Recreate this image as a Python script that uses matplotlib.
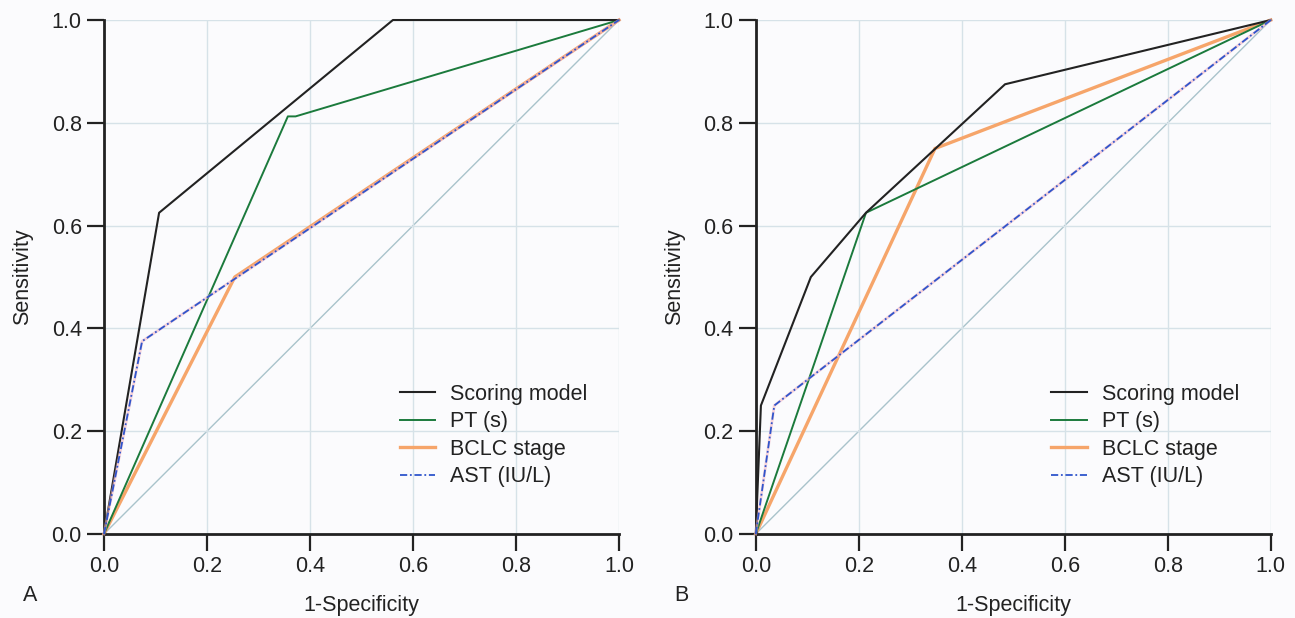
import matplotlib
matplotlib.use("Agg")
from matplotlib import pyplot as plt

plt.rcParams['font.family'] = ['Liberation Sans', 'DejaVu Sans']
plt.rcParams['text.color'] = '#222222'
plt.rcParams['axes.labelcolor'] = '#222222'
plt.rcParams['xtick.color'] = '#222222'
plt.rcParams['ytick.color'] = '#222222'

labels = ["Scoring model", "PT (s)", "BCLC stage", "AST (IU/L)"]
ticks = [0.0, 0.2, 0.4, 0.6, 0.8, 1.0]

# Panel A: (1-specificity, sensitivity) vertices of each ROC curve
a_score_fpr = [0.0, 0.107, 0.561, 1.0]
a_score_tpr = [0.0, 0.625, 1.0, 1.0]
a_pt_fpr = [0.0, 0.357, 0.372, 1.0]
a_pt_tpr = [0.0, 0.8125, 0.8125, 1.0]
a_bclc_fpr = [0.0, 0.254, 1.0]
a_bclc_tpr = [0.0, 0.5, 1.0]
a_ast_fpr = [0.0, 0.074, 1.0]
a_ast_tpr = [0.0, 0.375, 1.0]

# Panel B
b_score_fpr = [0.0, 0.01, 0.107, 0.214, 0.484, 1.0]
b_score_tpr = [0.0, 0.25, 0.5, 0.625, 0.875, 1.0]
b_pt_fpr = [0.0, 0.214, 1.0]
b_pt_tpr = [0.0, 0.625, 1.0]
b_bclc_fpr = [0.0, 0.348, 1.0]
b_bclc_tpr = [0.0, 0.75, 1.0]
b_ast_fpr = [0.0, 0.036, 1.0]
b_ast_tpr = [0.0, 0.25, 1.0]

bg = '#fbfbfd'
fs = 15.5
fig = plt.figure(figsize=(12.95, 6.18), dpi=100, facecolor=bg)


def draw_panel(ax, curves, letter):
    ax.set_facecolor(bg)
    ax.grid(True, color='#d6e2e8', lw=1.0, zorder=0)
    ax.plot([0, 1], [0, 1], color='#a9c3cb', lw=1.0, zorder=1, clip_on=False)

    (sx, sy), (px, py), (bx, by), (tx, ty) = curves
    ax.plot(bx, by, color='#f6a56a', lw=2.4, zorder=2, clip_on=False, label=labels[2])
    ax.plot(px, py, color='#1b7a3c', lw=1.4, zorder=3, clip_on=False, label=labels[1])
    ax.plot(sx, sy, color='#222222', lw=1.5, zorder=4, clip_on=False, label=labels[0])
    ax.plot(tx, ty, color='#f2b6c4', lw=2.0, alpha=0.6, zorder=4, clip_on=False)
    ax.plot(tx, ty, color='#2f55cc', lw=1.3, zorder=5, clip_on=False,
            dashes=(4, 1.5, 1, 1.5), label=labels[3])

    ax.set_xlim(0, 1)
    ax.set_ylim(0, 1)
    ax.set_xticks(ticks)
    ax.set_yticks(ticks)
    ax.set_xticklabels(["%.1f" % t for t in ticks])
    ax.set_yticklabels(["%.1f" % t for t in ticks])
    ax.tick_params(direction='out', length=12, width=1.6, labelsize=fs, pad=4)
    for side in ['top', 'right']:
        ax.spines[side].set_visible(False)
    for side in ['left', 'bottom']:
        ax.spines[side].set_linewidth(2.0)
        ax.spines[side].set_color('#222222')
    ax.set_xlabel("1-Specificity", fontsize=fs, labelpad=13)
    ax.set_ylabel("Sensitivity", fontsize=fs, labelpad=13)

    handles, labs = ax.get_legend_handles_labels()
    order = [labs.index(l) for l in labels]
    ax.legend([handles[i] for i in order], [labs[i] for i in order],
              loc='upper left', bbox_to_anchor=(0.574, 0.292), frameon=False,
              fontsize=fs, handlelength=1.65, handletextpad=0.7,
              labelspacing=0.3, borderpad=0, borderaxespad=0)
    ax.text(-0.158, -0.12, letter, transform=ax.transAxes, fontsize=fs,
            ha='left', va='center')


ax_a = fig.add_axes([0.0803, 0.1359, 0.3977, 0.8317])
draw_panel(ax_a, [(a_score_fpr, a_score_tpr), (a_pt_fpr, a_pt_tpr),
                  (a_bclc_fpr, a_bclc_tpr), (a_ast_fpr, a_ast_tpr)], "A")

ax_b = fig.add_axes([0.5836, 0.1359, 0.3977, 0.8317])
draw_panel(ax_b, [(b_score_fpr, b_score_tpr), (b_pt_fpr, b_pt_tpr),
                  (b_bclc_fpr, b_bclc_tpr), (b_ast_fpr, b_ast_tpr)], "B")

fig.savefig("out.png", dpi=100, facecolor=bg)
